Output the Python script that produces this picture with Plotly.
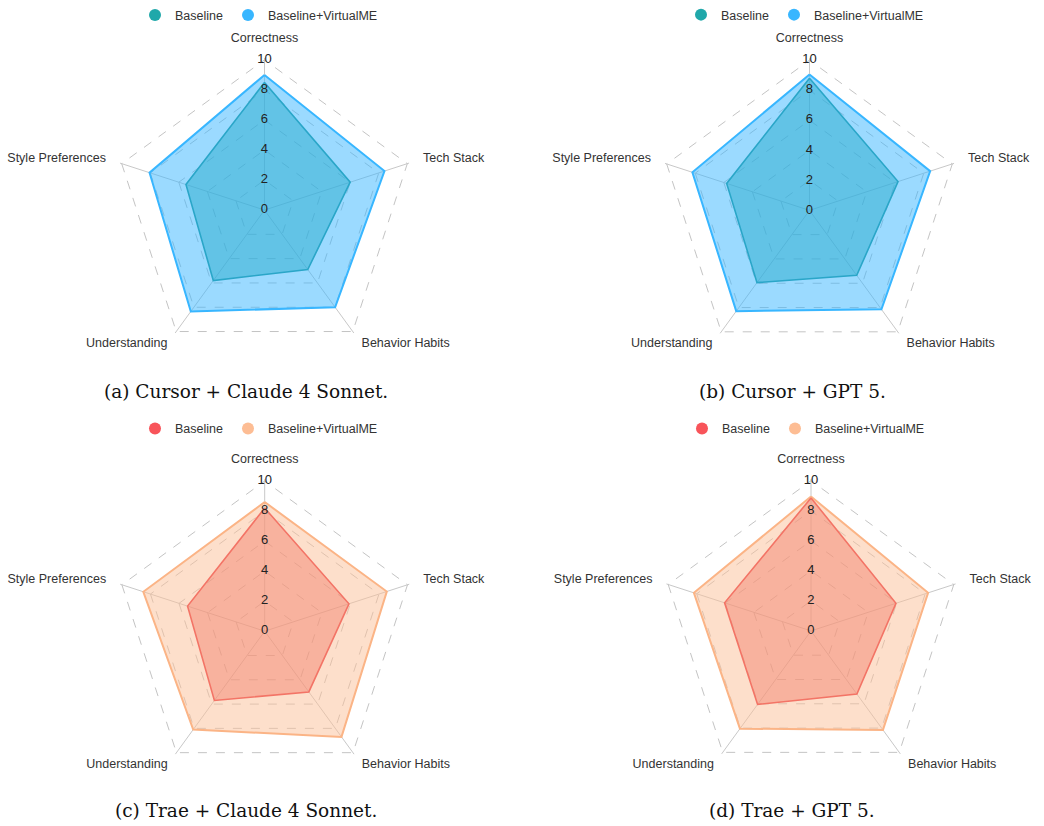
import plotly.graph_objects as go

W, H = 1044, 826

categories = ["Correctness", "Tech Stack", "Behavior Habits", "Understanding", "Style Preferences"]
radial_ticks = [0, 2, 4, 6, 8, 10]

# (a) Cursor + Claude 4 Sonnet
a_baseline = [8.5, 6.0, 4.9, 5.8, 5.5]
a_virtualme = [9.0, 8.4, 8.0, 8.35, 8.05]
# (b) Cursor + GPT 5
b_baseline = [8.8, 6.2, 5.35, 5.95, 5.8]
b_virtualme = [9.05, 8.45, 8.15, 8.3, 8.2]
# (c) Trae + Claude 4 Sonnet
c_baseline = [8.2, 5.9, 5.0, 5.7, 5.4]
c_virtualme = [8.6, 8.55, 8.7, 8.1, 8.5]
# (d) Trae + GPT 5
d_baseline = [8.85, 5.95, 5.2, 6.05, 6.05]
d_virtualme = [8.95, 8.2, 8.15, 8.05, 8.2]

captions = ["(a) Cursor + Claude 4 Sonnet.", "(b) Cursor + GPT 5.",
            "(c) Trae + Claude 4 Sonnet.", "(d) Trae + GPT 5."]
series_names = ["Baseline", "Baseline+VirtualME"]

# where each category name sits (radius in value units, anchor)
label_r = [11.4, 11.1, 11.0, 11.0, 11.1]
label_pos = ["middle center", "middle right", "middle right", "middle left", "middle left"]

blue_theme = dict(
    base_marker="#20a8aa", base_line="#2aa6c8", base_fill="rgba(42,172,205,0.5)",
    vm_marker="#38b6ff", vm_line="#38b6ff", vm_fill="rgba(56,182,255,0.5)",
)
red_theme = dict(
    base_marker="#f8545a", base_line="#f37466", base_fill="rgba(242,124,104,0.45)",
    vm_marker="#fdbd94", vm_line="#fbb486", vm_fill="rgba(252,192,152,0.5)",
)

panels = [
    dict(base=a_baseline, vm=a_virtualme, theme=blue_theme, c=(264.5, 202.5)),
    dict(base=b_baseline, vm=b_virtualme, theme=blue_theme, c=(809.5, 202.8)),
    dict(base=c_baseline, vm=c_virtualme, theme=red_theme, c=(264.7, 628.8)),
    dict(base=d_baseline, vm=d_virtualme, theme=red_theme, c=(811.0, 628.5)),
]
S = 15.2           # pixels per value unit
R_OUT = 10.12      # radial range of the chart polar
R_LAB = 12.0       # radial range of the label overlay polar
legend_centers = [(259, 5.5), (805, 5.0), (259, 424), (806, 424)]
caption_pos = [(246, 386.5), (792, 386.5), (246, 810.5), (792, 810.5)]

fig = go.Figure()
layout = dict(
    width=W, height=H, margin=dict(l=0, r=0, t=0, b=0),
    paper_bgcolor="white", plot_bgcolor="white",
    font=dict(family="Liberation Sans, Arial, sans-serif", color="#333333"),
    annotations=[],
)


def dom(cx, cy, rad):
    return dict(x=[(cx - rad) / W, (cx + rad) / W], y=[(H - cy - rad) / H, (H - cy + rad) / H])


closed = categories + [categories[0]]
for i, p in enumerate(panels):
    sub = "polar" if i == 0 else f"polar{i+1}"
    lab = f"polar{i+5}"
    leg = "legend" if i == 0 else f"legend{i+1}"
    th = p["theme"]
    # VirtualME area (behind)
    fig.add_trace(go.Scatterpolar(
        r=p["vm"] + [p["vm"][0]], theta=closed, mode="lines", fill="toself",
        fillcolor=th["vm_fill"], line=dict(color=th["vm_line"], width=2),
        name=series_names[1], showlegend=False, subplot=sub, hoverinfo="skip"))
    # Baseline area
    fig.add_trace(go.Scatterpolar(
        r=p["base"] + [p["base"][0]], theta=closed, mode="lines", fill="toself",
        fillcolor=th["base_fill"], line=dict(color=th["base_line"], width=1.6),
        name=series_names[0], showlegend=False, subplot=sub, hoverinfo="skip"))
    # legend entries
    for name, col in zip(series_names, [th["base_marker"], th["vm_marker"]]):
        fig.add_trace(go.Scatterpolar(
            r=[None], theta=[None], mode="markers",
            marker=dict(size=12, color=col, symbol="circle"),
            name=name, subplot=sub, legend=leg, showlegend=True))
    # radial tick labels along the Correctness axis (label overlay)
    fig.add_trace(go.Scatterpolar(
        r=radial_ticks, theta=[categories[0]] * len(radial_ticks), mode="text",
        text=[str(t) for t in radial_ticks], textposition="middle center",
        textfont=dict(size=13, color="#222222"), showlegend=False,
        subplot=lab, hoverinfo="skip"))
    # category names (label overlay)
    fig.add_trace(go.Scatterpolar(
        r=label_r, theta=categories, mode="text", text=categories,
        textposition=label_pos, textfont=dict(size=12.5, color="#333333"),
        showlegend=False, subplot=lab, hoverinfo="skip"))

    cx, cy = p["c"]
    ang_common = dict(direction="clockwise", rotation=90, categoryorder="array",
                      categoryarray=categories, showline=False, ticks="")
    layout[sub] = dict(
        domain=dom(cx, cy, S * R_OUT),
        gridshape="linear", bgcolor="rgba(0,0,0,0)",
        radialaxis=dict(range=[0, R_OUT], tickvals=[2, 4, 6, 8, 10], showticklabels=False,
                        ticks="", showline=False, gridcolor="#c4c4c4", griddash="dash",
                        gridwidth=1),
        angularaxis=dict(**ang_common, showticklabels=False, gridcolor="#c8c8c8", gridwidth=1),
    )
    layout[lab] = dict(
        domain=dom(cx, cy, S * R_LAB),
        gridshape="circular", bgcolor="rgba(0,0,0,0)",
        radialaxis=dict(range=[0, R_LAB], visible=False, showgrid=False),
        angularaxis=dict(**ang_common, showticklabels=False, showgrid=False),
    )
    lx, ly = legend_centers[i]
    layout[leg] = dict(
        orientation="h", x=lx / W, y=1 - ly / H, xanchor="center", yanchor="middle",
        font=dict(size=12.5, color="#333333"), bgcolor="rgba(0,0,0,0)", itemwidth=30,
    )
    capx, capy = caption_pos[i]
    layout["annotations"].append(dict(
        text=captions[i], x=capx / W, y=1 - capy / H, xref="paper", yref="paper",
        xanchor="center", yanchor="middle", showarrow=False,
        font=dict(family="DejaVu Serif, Liberation Serif, serif", size=18.5, color="#111111")))

fig.update_layout(**layout)
fig.write_html("out.html", config={"displayModeBar": False},
               post_script="document.body.style.margin='0';")
